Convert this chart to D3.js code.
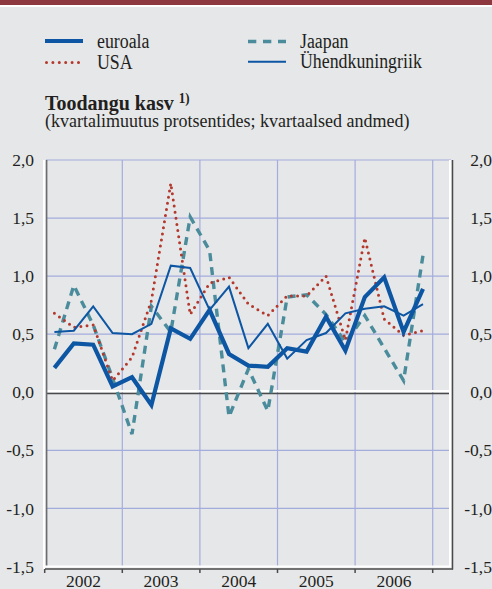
<!DOCTYPE html>
<html>
<head>
<meta charset="utf-8">
<script src="https://cdn.jsdelivr.net/npm/d3@7"></script>
<style>
  body { margin: 0; background: #e6e7e9; }
  svg { display: block; font-family: "Liberation Serif", "Times New Roman", serif; }
</style>
</head>
<body>
<svg width="492" height="589"></svg>
<script>
// data (quarterly change, %)
const years = ['2002', '2003', '2004', '2005', '2006']
const quarters = ['2002Q1', '2002Q2', '2002Q3', '2002Q4', '2003Q1', '2003Q2', '2003Q3', '2003Q4',
    '2004Q1', '2004Q2', '2004Q3', '2004Q4', '2005Q1', '2005Q2', '2005Q3', '2005Q4',
    '2006Q1', '2006Q2', '2006Q3', '2006Q4']
const euroala = [0.21, 0.42, 0.41, 0.05, 0.13, -0.11, 0.55, 0.46, 0.71, 0.33, 0.23, 0.22, 0.38, 0.35, 0.65, 0.36, 0.82, 0.99, 0.52, 0.89]
const usa = [0.68, 0.56, 0.58, 0.10, 0.30, 0.79, 1.80, 0.67, 0.94, 0.99, 0.76, 0.66, 0.83, 0.83, 1.00, 0.45, 1.33, 0.63, 0.49, 0.53]
const jaapan = [0.37, 0.92, 0.58, 0.12, -0.36, 0.74, 0.52, 1.51, 1.22, -0.21, 0.20, -0.16, 0.82, 0.84, 0.67, 0.43, 0.66, 0.38, 0.10, 1.18]
const uk = [0.52, 0.53, 0.74, 0.51, 0.50, 0.59, 1.09, 1.07, 0.71, 0.91, 0.38, 0.59, 0.29, 0.45, 0.51, 0.68, 0.72, 0.74, 0.66, 0.76]
const yTicks = [-1.5, -1.0, -0.5, 0.0, 0.5, 1.0, 1.5, 2.0]

const blue = '#0d56a3'
const red = '#b3392d'
const teal = '#4a8c9b'
const grid = '#a3acdc'
const ink = '#231f20'

let svg = d3.select('svg')

// text that is a bit taller than it is wide, like the original
function label(parent, x, y, size, sx, txt, bold) {
    let t = parent.append('g')
        .attr('transform', `translate(${x},${y}) scale(${sx},1)`)
        .append('text')
        .attr('font-size', size).attr('fill', ink)
        .attr('font-weight', bold ? 'bold' : null)
        .text(txt)
    return t
}

// top bar
svg.append('rect').attr('x', 0).attr('y', 0).attr('width', 492).attr('height', 5).attr('fill', '#8c383e')
svg.append('rect').attr('x', 0).attr('y', 5).attr('width', 492).attr('height', 2).attr('fill', '#fff')

// legend
let legend = [
    {name: 'euroala', color: blue, width: 4, dash: null, x: 45, y: 41},
    {name: 'USA', color: red, width: 3, dash: '0 6.4', cap: 'round', x: 45, y: 62.5},
    {name: 'Jaapan', color: teal, width: 3.3, dash: '8.3 6.7', x: 248, y: 41.5},
    {name: 'Ühendkuningriik', color: blue, width: 2, dash: null, x: 248, y: 61.7}
]
let lg = svg.append('g')
legend.forEach(d => {
    lg.append('line')
        .attr('x1', d.x + (d.cap ? 1.5 : 0)).attr('x2', d.x + 38)
        .attr('y1', d.y).attr('y2', d.y)
        .attr('stroke', d.color).attr('stroke-width', d.width)
        .attr('stroke-dasharray', d.dash)
        .attr('stroke-linecap', d.cap || 'butt')
    label(lg, d.x + 52, d.y + 6.5, 20.5, 0.87, d.name)
})

// title
let title = label(svg, 45, 109.5, 21.5, 0.93, 'Toodangu kasv ', true)
title.append('tspan').attr('font-size', 14).attr('dy', -7).text('1)')
label(svg, 45, 127, 18, 1, '(kvartalimuutus protsentides; kvartaalsed andmed)')

// scales
let left = 46, right = 451
let x = d3.scaleLinear().domain([0, quarters.length]).range([44.7, 432.7])
let xYear = d3.scaleBand().domain(years).range([44.7, 432.7])
let y = d3.scaleLinear().domain([-1.5, 2]).range([566.5, 160])

let plot = svg.append('g')

// grid
plot.selectAll('.hgrid').data(yTicks.filter(v => v !== 0 && v !== -1.5))
    .join('line').attr('class', 'hgrid')
    .attr('x1', left).attr('x2', right)
    .attr('y1', d => y(d)).attr('y2', d => y(d))
    .attr('stroke', grid).attr('stroke-width', 1.2)
plot.selectAll('.vgrid').data(years.slice(1).concat(['2007']))
    .join('line').attr('class', 'vgrid')
    .attr('x1', (d, i) => x((i + 1) * 4)).attr('x2', (d, i) => x((i + 1) * 4))
    .attr('y1', y(2)).attr('y2', y(-1.5))
    .attr('stroke', grid).attr('stroke-width', 1.2)

// zero line
plot.append('line').attr('x1', left).attr('x2', right).attr('y1', y(0) - 1.2).attr('y2', y(0) - 1.2)
    .attr('stroke', '#fff').attr('stroke-width', 2)
plot.append('line').attr('x1', left).attr('x2', right).attr('y1', y(0) + 1.3).attr('y2', y(0) + 1.3)
    .attr('stroke', '#4a4a4a').attr('stroke-width', 1.5)

// frame
plot.append('line').attr('x1', 44).attr('x2', 44).attr('y1', y(2)).attr('y2', 569).attr('stroke', '#fff').attr('stroke-width', 2)
plot.append('line').attr('x1', 46.6).attr('x2', 46.6).attr('y1', y(2)).attr('y2', 566).attr('stroke', '#6d6e71').attr('stroke-width', 1.6)
plot.append('line').attr('x1', 450).attr('x2', 450).attr('y1', y(2)).attr('y2', 566.5).attr('stroke', '#fff').attr('stroke-width', 2)
plot.append('line').attr('x1', 452.5).attr('x2', 452.5).attr('y1', y(2)).attr('y2', 569.5).attr('stroke', '#4a4a4a').attr('stroke-width', 1.5)
plot.append('line').attr('x1', 45).attr('x2', 451).attr('y1', 566.5).attr('y2', 566.5).attr('stroke', '#fff').attr('stroke-width', 2)
plot.append('line').attr('x1', 45).attr('x2', 453).attr('y1', 569).attr('y2', 569).attr('stroke', '#4a4a4a').attr('stroke-width', 1.5)

// bottom ticks at year boundaries
plot.selectAll('.tick-b').data(d3.range(0, 21, 4))
    .join('line').attr('class', 'tick-b')
    .attr('x1', d => x(d)).attr('x2', d => x(d))
    .attr('y1', 569).attr('y2', 573)
    .attr('stroke', '#4a4a4a').attr('stroke-width', 1.5)

// lines
let line = d3.line()
    .x((d, i) => x(i + 0.5))
    .y(d => y(d))

plot.append('path').datum(jaapan).attr('d', line)
    .attr('fill', 'none').attr('stroke', teal).attr('stroke-width', 3.4)
    .attr('stroke-dasharray', '8 6')
plot.append('path').datum(usa).attr('d', line)
    .attr('fill', 'none').attr('stroke', red).attr('stroke-width', 3)
    .attr('stroke-dasharray', '0 6.2').attr('stroke-linecap', 'round')
plot.append('path').datum(uk).attr('d', line)
    .attr('fill', 'none').attr('stroke', blue).attr('stroke-width', 2)
plot.append('path').datum(euroala).attr('d', line)
    .attr('fill', 'none').attr('stroke', blue).attr('stroke-width', 4.2)

// axes labels
let fmt = v => v.toFixed(1).replace('.', ',')
let yLeft = svg.append('g').attr('transform', 'translate(34,0)')
    .call(d3.axisLeft(y).tickValues(yTicks).tickSize(0).tickPadding(0).tickFormat(fmt))
let yRight = svg.append('g').attr('transform', 'translate(492,0)')
    .call(d3.axisLeft(y).tickValues(yTicks).tickSize(0).tickPadding(0).tickFormat(fmt))
let xAxis = svg.append('g').attr('transform', 'translate(0,573.5)')
    .call(d3.axisBottom(xYear).tickSize(0).tickPadding(0))

svg.selectAll('.domain').remove()
svg.selectAll('.tick text')
    .attr('font-family', '"Liberation Serif", "Times New Roman", serif')
    .attr('font-size', 17.5).attr('fill', ink)
xAxis.selectAll('.tick text').attr('dy', '0.75em')
</script>
</body>
</html>
